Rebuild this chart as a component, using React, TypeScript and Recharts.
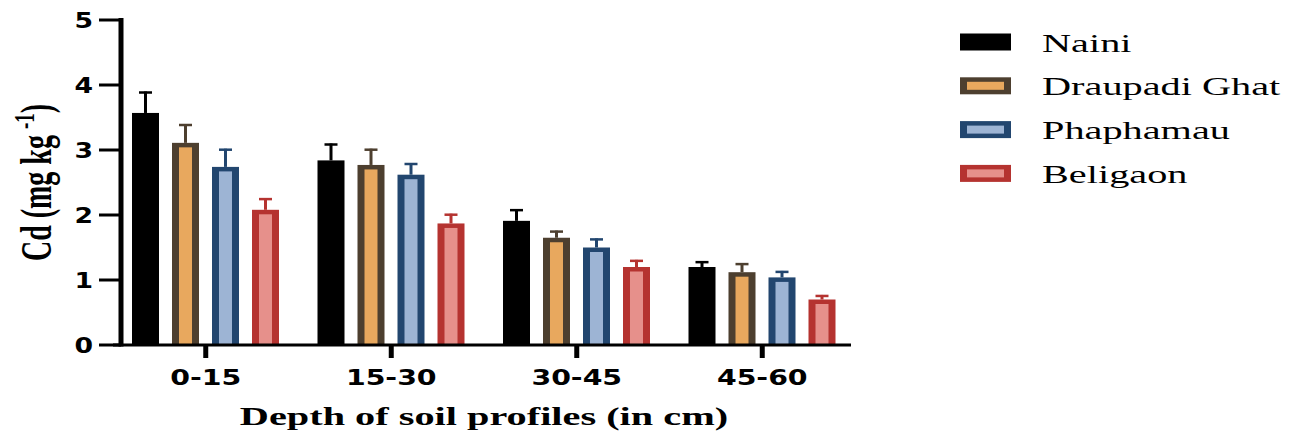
import React from 'react';
import { BarChart, Bar, XAxis, YAxis, Legend, Label } from 'recharts';

const categories = ['0-15', '15-30', '30-45', '45-60'];
const seriesNames = ['Naini', 'Draupadi Ghat', 'Phaphamau', 'Beligaon'];
const seriesKeys = ['naini', 'draupadi', 'phaphamau', 'beligaon'];

const nainiValues = [3.57, 2.84, 1.91, 1.2];
const nainiErrors = [0.33, 0.26, 0.18, 0.09];
const draupadiValues = [3.11, 2.77, 1.65, 1.12];
const draupadiErrors = [0.29, 0.25, 0.11, 0.14];
const phaphamauValues = [2.74, 2.62, 1.5, 1.04];
const phaphamauErrors = [0.28, 0.18, 0.14, 0.1];
const beligaonValues = [2.08, 1.87, 1.2, 0.7];
const beligaonErrors = [0.18, 0.15, 0.11, 0.07];

const yTicks = [0, 1, 2, 3, 4, 5];
const xTitle = 'Depth of soil profiles (in cm)';
const yTitleMain = 'Cd (mg kg';
const yTitleSup = '-1';
const yTitleEnd = ')';

const strokeColors = ['#000000', '#4d3f2f', '#22466f', '#b53330'];
const fillColors = ['#000000', '#e8a85e', '#9db4d4', '#e6908b'];

const SX = 1.55;
const SANS = '"DejaVu Sans", "Liberation Sans", Arial, sans-serif';
const SERIF = '"Liberation Serif", "Times New Roman", serif';

const data = categories.map((c, i) => ({
  category: c,
  naini: nainiValues[i],
  nainiErr: nainiErrors[i],
  draupadi: draupadiValues[i],
  draupadiErr: draupadiErrors[i],
  phaphamau: phaphamauValues[i],
  phaphamauErr: phaphamauErrors[i],
  beligaon: beligaonValues[i],
  beligaonErr: beligaonErrors[i],
}));

const makeShape = (idx: number) => (props: any) => {
  const { x, y, width, height, payload } = props;
  const key = seriesKeys[idx];
  const v = payload[key];
  const err = payload[key + 'Err'];
  const pxPerUnit = v ? height / v : 0;
  const cx = x + width / 2;
  const top = y - err * pxPerUnit;
  const bw = 7;
  const bh = 4.5;
  const sc = strokeColors[idx];
  return (
    <g>
      <line x1={cx} x2={cx} y1={y} y2={top} stroke={sc} strokeWidth={3} />
      <line x1={cx - 6.5} x2={cx + 6.5} y1={top + 1} y2={top + 1} stroke={sc} strokeWidth={2.5} />
      <rect x={x} y={y} width={width} height={height} fill={sc} />
      <rect
        x={x + bw}
        y={y + bh}
        width={Math.max(0, width - 2 * bw)}
        height={Math.max(0, height - bh)}
        fill={fillColors[idx]}
      />
    </g>
  );
};

// Y tick: label + thick tick line; the 0 tick also draws the thick axis line
const YTick = (props: any) => {
  const { x, y, payload, height } = props;
  const axisX = x + 30;
  const isZero = payload && payload.value === 0;
  return (
    <g>
      <line x1={x + 8} x2={axisX} y1={y} y2={y} stroke="#000" strokeWidth={3} />
      {isZero && typeof height === 'number' ? (
        <line x1={axisX} x2={axisX} y1={y + 1.5} y2={y - height - 2} stroke="#000" strokeWidth={5} />
      ) : null}
      <g transform={`translate(${x + 2},${y + 7.5}) scale(1.27,1)`}>
        <text textAnchor="end" fontFamily={SANS} fontWeight="bold" fontSize={21} fill="#000">
          {payload.value}
        </text>
      </g>
    </g>
  );
};

// X tick: label + thick tick mark; the first tick also draws the axis line
const XTick = (props: any) => {
  const { x, y, payload, width, index, visibleTicksCount } = props;
  const axisY = y - 12;
  let axisLine = null;
  if (index === 0 && typeof width === 'number' && visibleTicksCount) {
    const band = width / visibleTicksCount;
    const x0 = x - band / 2;
    axisLine = <line x1={x0} x2={x0 + width - 4} y1={axisY} y2={axisY} stroke="#000" strokeWidth={3} />;
  }
  return (
    <g>
      {axisLine}
      <line x1={x} x2={x} y1={axisY} y2={y + 1} stroke="#000" strokeWidth={5} />
      <g transform={`translate(${x},${y + 28}) scale(1.29,1)`}>
        <text textAnchor="middle" fontFamily={SANS} fontWeight="bold" fontSize={22} fill="#000">
          {payload.value}
        </text>
      </g>
    </g>
  );
};

const XTitle = (props: any) => {
  const vb = props.viewBox || { x: 113, y: 345, width: 742, height: 87 };
  const cx = vb.x + vb.width / 2;
  return (
    <g transform={`translate(${cx},${vb.y + 80}) scale(${SX},1)`}>
      <text textAnchor="middle" fontFamily={SERIF} fontWeight="bold" fontSize={26} fill="#000">
        {xTitle}
      </text>
    </g>
  );
};

const YTitle = (props: any) => {
  const vb = props.viewBox || { x: 0, y: 20, width: 113, height: 325 };
  const cy = vb.y + vb.height / 2;
  return (
    <g transform={`translate(51,${cy}) scale(${SX},1) rotate(-90)`}>
      <text textAnchor="middle" fontFamily={SERIF} fontWeight="bold" fontSize={28} fill="#000">
        {yTitleMain}
        <tspan fontSize={19} dx={6} dy={-11}>{yTitleSup}</tspan>
        <tspan dy={11}>{yTitleEnd}</tspan>
      </text>
    </g>
  );
};

const renderLegend = () => (
  <svg width={344} height={200}>
    {seriesNames.map((name, i) => {
      const cy = 42 + i * 43.8;
      return (
        <g key={name}>
          <rect x={10} y={cy - 8.5} width={51} height={17} fill={strokeColors[i]} />
          <rect x={17} y={cy - 4} width={37} height={8} fill={fillColors[i]} />
          <g transform={`translate(92,${cy + 9.5}) scale(${SX},1)`}>
            <text fontFamily={SERIF} fontSize={26} fill="#000">
              {name}
            </text>
          </g>
        </g>
      );
    })}
  </svg>
);

export default function App() {
  return (
    <div style={{ position: 'absolute', left: 0, top: 0, background: '#fff' }}>
      <BarChart
        width={1294}
        height={432}
        data={data}
        margin={{ top: 20, right: 439, bottom: 0, left: 0 }}
        barGap={13}
      >
        <XAxis
          dataKey="category"
          height={87}
          tickSize={12}
          tickMargin={0}
          stroke="#000"
          axisLine={false}
          tickLine={false}
          tick={<XTick />}
        >
          <Label content={<XTitle />} />
        </XAxis>
        <YAxis
          width={113}
          domain={[0, 5]}
          ticks={yTicks}
          interval={0}
          tickSize={22}
          tickMargin={0}
          stroke="#000"
          axisLine={false}
          tickLine={false}
          tick={<YTick />}
        >
          <Label content={<YTitle />} />
        </YAxis>
        <Legend
          layout="horizontal"
          verticalAlign="middle"
          align="center"
          content={renderLegend}
          wrapperStyle={{ position: 'absolute', left: 950, top: 0, width: 344, height: 200 }}
        />
        {seriesKeys.map((k, i) => (
          <Bar
            key={k}
            dataKey={k}
            name={seriesNames[i]}
            fill={fillColors[i]}
            stroke={strokeColors[i]}
            barSize={27}
            shape={makeShape(i)}
            isAnimationActive={false}
          />
        ))}
      </BarChart>
    </div>
  );
}
